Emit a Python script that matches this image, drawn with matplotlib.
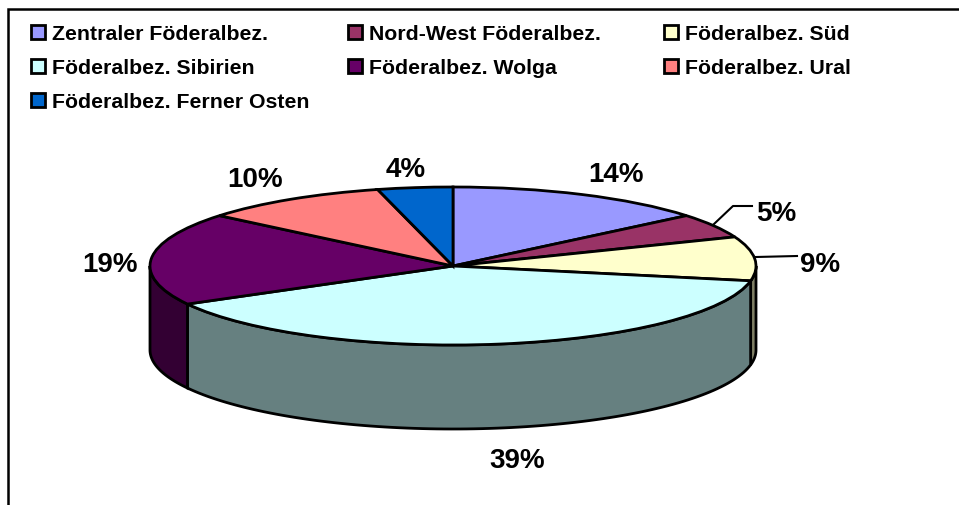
import numpy as np
import matplotlib
matplotlib.use("Agg")
from matplotlib import pyplot as plt
from matplotlib.colors import to_rgb

plt.rcParams['font.family'] = ['Liberation Sans', 'DejaVu Sans']
plt.rcParams['font.weight'] = 'bold'

names = ["Zentraler Föderalbez.", "Nord-West Föderalbez.", "Föderalbez. Süd",
         "Föderalbez. Sibirien", "Föderalbez. Wolga", "Föderalbez. Ural",
         "Föderalbez. Ferner Osten"]
values = [14, 5, 9, 39, 19, 10, 4]
colors = ["#9999FF", "#993366", "#FFFFCC", "#CCFFFF", "#660066", "#FF8080", "#0066CC"]
label_x = [616, 776, 820, 517, 110, 255, 406]
label_y = [175, 214, 265, 461, 265, 180, 170]

W, H = 959, 506
cx, cy, rx, ry = 453, 267, 303, 79
depth = 84 / ry

fig = plt.figure(figsize=(W / 100, H / 100), dpi=100)
ax = fig.add_axes([0, 0, 1, 1])

# side wall of the cylinder, only the part facing the viewer
cum = np.cumsum([0] + values) * 360 / sum(values)
for i in range(len(values)):
    lo, hi = max(cum[i], 90), min(cum[i + 1], 270)
    if lo >= hi:
        continue
    a = np.radians(np.linspace(lo, hi, 100))
    xs = np.r_[np.sin(a), np.sin(a)[::-1]]
    ys = np.r_[np.cos(a), np.cos(a)[::-1] - depth]
    dark = [c * 0.5 for c in to_rgb(colors[i])]
    ax.fill(xs, ys, facecolor=dark, edgecolor="black", lw=2)

wedges, _ = ax.pie(values, colors=colors, startangle=90, counterclock=False,
                   wedgeprops={"edgecolor": "black", "linewidth": 2})
ax.set_aspect("auto")
ax.set_xlim(-cx / rx, (W - cx) / rx)
ax.set_ylim(-(H - cy) / ry, cy / ry)
ax.axis("off")

# overlay in pixel units for the frame, leaders and labels
ov = fig.add_axes([0, 0, 1, 1])
ov.set_xlim(0, W)
ov.set_ylim(H, 0)
ov.axis("off")
ov.plot([8, 8, W], [H, 10, 10], color="black", lw=1.8, solid_joinstyle="miter")
ov.plot([714, 733, 752], [225, 207, 207], color="black", lw=1.5)
ov.plot([756, 797], [258, 257], color="black", lw=1.5)
for i in range(len(values)):
    ov.text(label_x[i], label_y[i], f"{values[i]}%", fontsize=20, fontweight="bold",
            ha="center", va="center")

# three separate legends because the column gaps differ in the reference
columns = [([0, 3, 6], 31), ([1, 4], 348), ([2, 5], 664)]
for idx, x0 in columns:
    leg = fig.legend([wedges[i] for i in idx], [names[i] for i in idx],
                     loc="upper left", bbox_to_anchor=(x0 / W, 1 - 25.5 / H), frameon=False,
                     fontsize=15.3, handlelength=0.66, handleheight=0.66, handletextpad=0.33,
                     labelspacing=0.7, borderpad=0, borderaxespad=0)
    for p in leg.get_patches():
        p.set_linewidth(2)

fig.savefig("out.png", dpi=100)
